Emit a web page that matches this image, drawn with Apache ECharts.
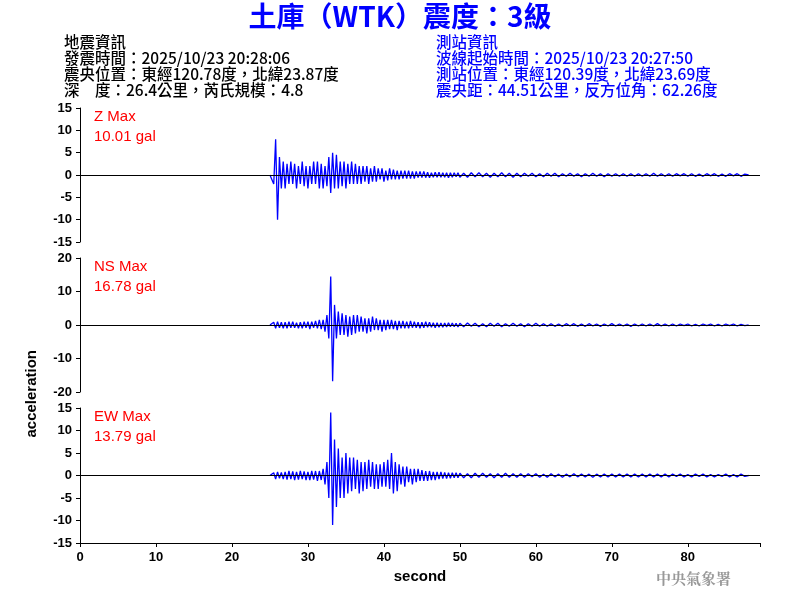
<!DOCTYPE html>
<html><head><meta charset="utf-8">
<script src="https://cdn.jsdelivr.net/npm/echarts@6/dist/echarts.min.js"></script>
<style>html,body{margin:0;background:#fff}#c{width:800px;height:600px}</style>
</head><body><div id="c"></div>
<script>
// head: 25.0 .. 49.75 s, step 0.25 s ; tail: 50 .. 87.5 s, step 0.5 s
const headStart = 25.0, headStep = 0.25, tailStart = 50.0, tailStep = 0.5;
const zHead = [
0,0,-2,8, -10,4,-3,3, -3,2.5,-2,3, -2,2.5,-3,2, -2,3,-2.5,2, -3,2,-2,3, -2,3,-3,2.5, -3,2,-2.5,4,
-4,5,-3,4.5, -3,3,-2.5,3, -3,2.5,-2,3, -2,2.5,-2,2, -2,2,-1.5,2, -2,1.5,-1.5,2, -1.5,1.5,-1,1.5, -1.5,1,-1.2,1.5,
-1,1.2,-1,1, -1,1,-0.8,1, -0.8,1,-0.8,0.8, -0.8,0.8,-0.6,0.8, -0.6,0.8,-0.6,0.6, -0.6,0.5,-0.5,0.6, -0.5,0.6,-0.5,0.5, -0.5,0.5,-0.6,0.5,
-0.5,0.5,-0.4,0.5 ];
const zTail = [
-0.5,0.4,-0.5,0.5,-0.4,0.5,-0.4,0.4, -0.5,0.4,-0.4,0.5,-0.4,0.4,-0.5,0.4, -0.4,0.4,-0.3,0.4,-0.4,0.3,-0.4,0.4,
-0.3,0.4,-0.4,0.3,-0.3,0.4,-0.3,0.3, -0.4,0.3,-0.3,0.4,-0.3,0.3,-0.4,0.3, -0.3,0.3,-0.3,0.3,-0.3,0.3,-0.3,0.3,
-0.3,0.3,-0.3,0.4,-0.3,0.3,-0.3,0.3, -0.3,0.3,-0.2,0.3,-0.3,0.3,-0.3,0.2, -0.3,0.3,-0.2,0.3,-0.3,0.2,-0.3,0.3,
-0.2,0.3,-0.3,0.2,0 ];
const nsHead = [
0,0,0.8,-1, 1,-0.8,0.8,-1, 0.8,-1,1,-0.8, 1,-0.8,0.7,-1, 0.8,-1,1,-0.8, 1,-1.2,1,-0.8, 1.2,-1,1.5,-1.2, 1.5,-2,3,-4,
14.5,-16.8,6,-4, 4,-3,3.5,-3, 3,-3.5,2.5,-3, 3,-2.5,3,-2, 2.5,-2,2,-2.5, 2,-2,2.5,-1.5, 2,-1.5,1.5,-2, 1.5,-1.5,1.5,-1.2,
1.5,-1.2,1.2,-1.5, 1.2,-1,1.2,-1, 1,-1,1.2,-0.8, 1,-0.8,0.8,-1, 0.8,-0.8,1,-0.7, 0.8,-0.7,0.7,-0.8, 0.7,-0.7,0.6,-0.7, 0.6,-0.6,0.7,-0.5,
0.6,-0.5,0.5,-0.6 ];
const nsTail = [
0.5,-0.5,0.6,-0.4,0.5,-0.5,0.4,-0.5, 0.5,-0.4,0.5,-0.5,0.4,-0.4,0.5,-0.4, 0.4,-0.5,0.4,-0.4,0.5,-0.4,0.4,-0.4,
0.4,-0.4,0.3,-0.4,0.4,-0.3,0.4,-0.4, 0.3,-0.4,0.4,-0.3,0.3,-0.4,0.3,-0.3, 0.4,-0.3,0.3,-0.3,0.3,-0.4,0.3,-0.3,
0.3,-0.3,0.3,-0.3,0.4,-0.3,0.3,-0.3, 0.3,-0.3,0.3,-0.2,0.3,-0.3,0.2,-0.3, 0.3,-0.2,0.3,-0.3,0.2,-0.3,0.3,-0.2,
0.3,-0.3,0.2,-0.2,0 ];
const ewHead = [
0,0,0.6,-0.8, 0.8,-0.6,0.7,-0.8, 0.8,-0.9,1,-0.8, 0.9,-1,0.8,-0.9, 1,-0.8,0.9,-1, 0.8,-1,1,-0.9, 1,-1.2,1,-1, 1.5,-2,3,-5,
14,-11,8,-7, 6,-5,4,-5, 5,-4,4,-3.5, 4,-3,3.5,-4, 3,-3.5,3,-3, 3.5,-2.5,3,-3, 2.5,-3,2.5,-2.5, 3,-2.5,3.5,-3,
5,-4,3,-3.5, 2.5,-2,2,-2.5, 2,-1.5,1.5,-2, 1.5,-1.5,1.5,-1.2, 1.2,-1.2,1,-1.2, 1,-1,0.8,-1, 0.8,-0.8,0.8,-0.7, 0.7,-0.7,0.6,-0.6,
0.6,-0.5,0.6,-0.5 ];
const ewTail = [
0.5,-0.5,0.4,-0.5,0.5,-0.4,0.5,-0.4, 0.4,-0.5,0.4,-0.4,0.5,-0.4,0.4,-0.4, 0.4,-0.4,0.4,-0.3,0.4,-0.4,0.3,-0.4,
0.4,-0.3,0.3,-0.4,0.3,-0.3,0.4,-0.3, 0.3,-0.3,0.3,-0.4,0.3,-0.3,0.3,-0.3, 0.3,-0.3,0.3,-0.3,0.3,-0.3,0.3,-0.3,
0.3,-0.3,0.3,-0.3,0.3,-0.3,0.3,-0.3, 0.3,-0.2,0.3,-0.3,0.2,-0.3,0.3,-0.2, 0.3,-0.3,0.2,-0.3,0.2,-0.2,0.3,-0.3,
0.2,-0.3,0.3,-0.2,0 ];
const panelNames = ['Z Max','NS Max','EW Max'];
const panelMax = ['10.01 gal','16.78 gal','13.79 gal'];
const yRanges = [[-15,15,5],[-20,20,10],[-15,15,5]];
const xTicks = [0,10,20,30,40,50,60,70,80];

function toPairs(head, tail){
  const out = head.map((v,i)=>[headStart+i*headStep, v]);
  tail.forEach((v,i)=>out.push([tailStart+i*tailStep, v]));
  return out;
}
const seriesData = [toPairs(zHead,zTail), toPairs(nsHead,nsTail), toPairs(ewHead,ewTail)];
const tops = [108,258,408], h = [134,134,135];
const font = 'Liberation Sans, Arial, sans-serif';
const cjk = '"Noto Sans CJK TC", sans-serif';
const chart = echarts.init(document.getElementById('c'));
const grids = tops.map((t,i)=>({left:80, right:40, top:t, height:h[i]}));
const xAxes = tops.map((t,i)=>({gridIndex:i, type:'value', min:0, max:89.5, interval:10,
  axisLine:{show:i===2, onZero:false, lineStyle:{color:'#000'}},
  axisTick:{show:i===2, length:4, lineStyle:{color:'#000'}},
  axisLabel:{show:i===2, color:'#000', fontFamily:font, fontSize:13, fontWeight:'bold',
    formatter:v=>xTicks.includes(v)?String(v):''},
  splitLine:{show:false},
  name:i===2?'second':'', nameLocation:'middle', nameGap:26,
  nameTextStyle:{color:'#000', fontFamily:font, fontSize:15, fontWeight:'bold'}}));
const yAxes = yRanges.map((r,i)=>({gridIndex:i, type:'value', min:r[0], max:r[1], interval:r[2],
  axisLine:{show:true, lineStyle:{color:'#000'}}, axisTick:{show:true, length:4, lineStyle:{color:'#000'}},
  axisLabel:{color:'#000', fontFamily:font, fontSize:13, fontWeight:'bold', margin:8},
  splitLine:{show:false}}));
const series = seriesData.map((d,i)=>({type:'line', xAxisIndex:i, yAxisIndex:i, data:d, symbol:'none',
  lineStyle:{color:'#0000ff', width:1.3}, z:3, silent:true,
  markLine:{symbol:'none', silent:true, label:{show:false}, lineStyle:{color:'#000', width:1, type:'solid'}, data:[{yAxis:0}]}}));
const leftInfo = ['地震資訊','發震時間：2025/10/23 20:28:06','震央位置：東經120.78度，北緯23.87度','深　度：26.4公里，芮氏規模：4.8'];
const rightInfo = ['測站資訊','波線起始時間：2025/10/23 20:27:50','測站位置：東經120.39度，北緯23.69度','震央距：44.51公里，反方位角：62.26度'];
const graphic = [
  {type:'text', left:'center', top:2, style:{text:'土庫（WTK）震度：3級', fill:'#0000ff', font:'bold 28px '+cjk}},
  ...leftInfo.map((s,i)=>({type:'text', left:64, top:34+i*16, style:{text:s, fill:'#000', font:'500 15.5px '+cjk}})),
  ...rightInfo.map((s,i)=>({type:'text', left:436, top:34+i*16, style:{text:s, fill:'#0000ff', font:'500 15.5px '+cjk}})),
  ...panelNames.map((s,i)=>({type:'text', left:94, top:tops[i]+1, style:{text:s, fill:'#ff0000', font:'15px '+font}})),
  ...panelMax.map((s,i)=>({type:'text', left:94, top:tops[i]+21, style:{text:s, fill:'#ff0000', font:'15px '+font}})),
  {type:'text', left:24, top:350, rotation:Math.PI/2, style:{text:'acceleration', fill:'#000', font:'bold 15px '+font}},
  {type:'text', left:656, top:571, style:{text:'中央氣象署', fill:'#999', font:'bold 15px "Noto Serif CJK TC", '+cjk}}
];
chart.setOption({animation:false, grid:grids, xAxis:xAxes, yAxis:yAxes, series, graphic});
</script></body></html>
